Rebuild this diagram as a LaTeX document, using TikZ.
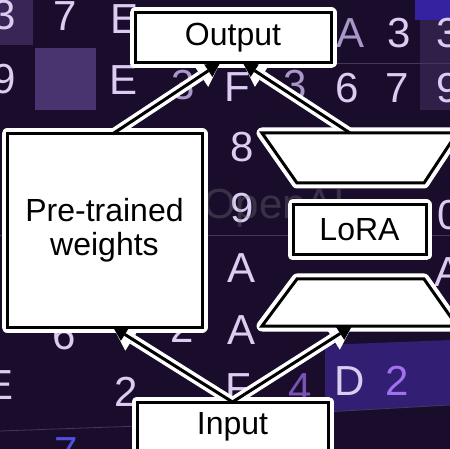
\documentclass[tikz,border=0pt]{standalone}
\usepackage{fontspec}
\setmainfont{Liberation Sans}
\usetikzlibrary{arrows.meta,calc}
\pgfdeclarelayer{bg}
\pgfdeclarelayer{halo}
\pgfsetlayers{bg,halo,main}
\definecolor{bgdark}{HTML}{1A0D2B}
\definecolor{patchA}{HTML}{3A2656}
\definecolor{patchB}{HTML}{4A3470}
\definecolor{patchC}{HTML}{3422A0}
\definecolor{patchD}{HTML}{321E72}
\definecolor{lav}{HTML}{DCCCF2}
\definecolor{lavdim}{HTML}{A898C8}
\definecolor{violet}{HTML}{A070F0}
\definecolor{bluish}{HTML}{5050E0}
\definecolor{gridline}{HTML}{45355F}
\begin{document}
\begin{tikzpicture}[x=1pt,y=-1pt,
  box/.style={draw=black, line width=3pt, fill=white, outer sep=0pt, inner sep=0pt,
    font=\fontsize{32}{34}\selectfont, align=center},
  shapeb/.style={draw=black, line width=3pt, fill=white, line join=miter},
  haloline/.style={draw=white, fill=white, line width=11pt, line join=round},
  arrowhalo/.style={draw=white, line width=10pt,
    -{Triangle[length=23pt,width=27pt,line width=0pt]}},
  arrowblack/.style={draw=black, line width=3pt,
    -{Triangle[length=14pt,width=15pt,line width=0pt]}},
  dig/.style={text=lav, font=\fontsize{42}{42}\selectfont, inner sep=0pt},
  wm/.style={text=gray, opacity=0.32, font=\fontsize{42}{42}\selectfont, inner sep=0pt, anchor=west}
]
\useasboundingbox (0,0) rectangle (450,449);

% ---------- background ----------
\begin{pgfonlayer}{bg}
\fill[bgdark] (0,0) rectangle (450,449);
\fill[patchA] (0,0) rectangle (33,45);
\fill[patchB] (35,48) rectangle (96,110);
\fill[patchC] (415,0) rectangle (450,20);
\fill[patchA!70!bgdark] (420,20) rectangle (450,110);
\fill[patchD] (325,345) -- (450,340) -- (450,405) -- (325,412) -- cycle;
\draw[gridline, line width=0.8pt] (0,235) -- (450,235);
\draw[gridline, line width=0.8pt] (330,63) -- (450,63);
\draw[gridline, line width=0.8pt] (0,431) -- (140,426);
\draw[gridline, line width=0.8pt] (325,412) -- (450,405);
\node[dig] (d1) at (4,15) {3};
\node[dig] (d2) at (65,16) {7};
\node[dig] (d3) at (125,19) {E};
\node[dig] (d4) at (4,79) {9};
\node[dig] (d5) at (124,80) {E};
\node[dig, text=lavdim] (d6) at (351,33) {A};
\node[dig] (d7) at (399,33) {3};
\node[dig] (d8) at (448,33) {3};
\node[dig] (d9) at (347,88) {6};
\node[dig] (d10) at (397,88) {7};
\node[dig] (d11) at (448,88) {9};
\node[dig] (d12) at (237,87) {F};
\node[dig, text=lavdim] (d13) at (183,85) {3};
\node[dig, text=lavdim] (d14) at (295,85) {3};
\node[dig] (d15) at (242,147) {8};
\node[dig] (d16) at (242,208) {9};
\node[dig] (d17) at (242,268) {A};
\node[dig] (d18) at (242,330) {A};
\node[dig] (d19) at (64,335) {6};
\node[dig] (d20) at (182,328) {2};
\node[dig] (d21) at (126,392) {2};
\node[dig] (d22) at (238,388) {F};
\node[dig, text=violet!70!bgdark] (d23) at (300,388) {4};
\node[dig] (d24) at (350,381) {D};
\node[dig, text=violet] (d25) at (397,381) {2};
\node[dig] (d26) at (0,385) {E};
\node[dig, text=bluish] (d27) at (66,452) {7};
\node[dig] (d28) at (449,215) {0};
\node[dig] (d29) at (449,272) {A};
\node[wm] (wmark) at (203,208) {OpenAI};
\end{pgfonlayer}

% ---------- boxes ----------
\node[box, minimum width=196pt, minimum height=50pt] (out) at (233,38) {Output};
\node[box, minimum width=195pt, minimum height=193pt] (pre) at (104.5,230.5) {Pre-trained\\weights};
\node[box, minimum width=133pt, minimum height=50pt] (lora) at (359.5,230) {LoRA};
\node[box, minimum width=191pt, minimum height=50pt] (in) at (232.5,427) {Input};

% trapezoids (down-projection and up-projection)
\coordinate (ua) at (262,133);
\coordinate (ub) at (457,133);
\coordinate (uc) at (424,183);
\coordinate (ud) at (297,183);
\coordinate (utop) at (350,133);
\coordinate (la) at (297,279);
\coordinate (lb) at (424,279);
\coordinate (lc) at (457,326);
\coordinate (ld) at (262,326);
\coordinate (lbot) at (352,326);
\draw[shapeb] (ua) -- (ub) -- (uc) -- (ud) -- cycle;
\draw[shapeb] (la) -- (lb) -- (lc) -- (ld) -- cycle;

% ---------- halos ----------
\begin{pgfonlayer}{halo}
\foreach \n in {out,pre,lora,in}
  \draw[haloline] (\n.south west) rectangle (\n.north east);
\draw[haloline] (ua) -- (ub) -- (uc) -- (ud) -- cycle;
\draw[haloline] (la) -- (lb) -- (lc) -- (ld) -- cycle;
\draw[arrowhalo] (in.north) -- ([xshift=8.5pt]pre.south);
\draw[arrowhalo] (in.north) -- (lbot);
\draw[arrowhalo] ([xshift=8pt]pre.north) -- ([xshift=-13pt]out.south);
\draw[arrowhalo] (utop) -- ([xshift=10pt]out.south);
\end{pgfonlayer}

% ---------- arrows ----------
\draw[arrowblack] (in.north) -- ([xshift=8.5pt]pre.south);
\draw[arrowblack] (in.north) -- (lbot);
\draw[arrowblack] ([xshift=8pt]pre.north) -- ([xshift=-13pt]out.south);
\draw[arrowblack] (utop) -- ([xshift=10pt]out.south);
\end{tikzpicture}
\end{document}
